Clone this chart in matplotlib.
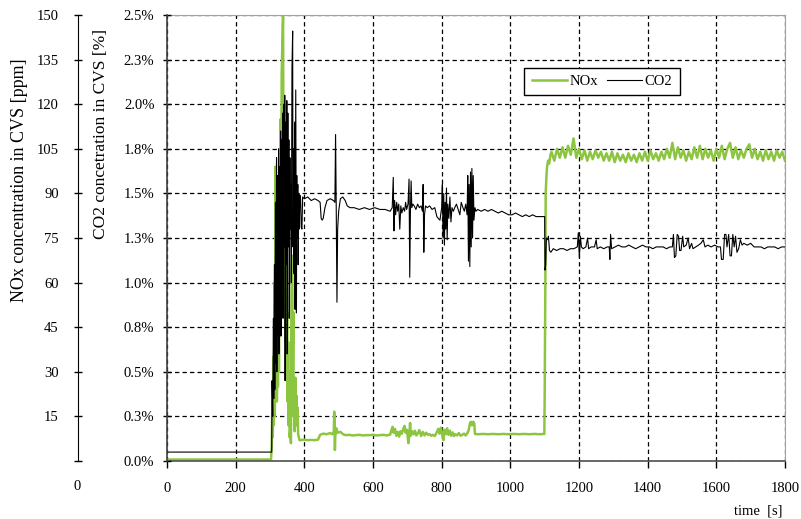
import numpy as np
import matplotlib.pyplot as plt

plt.rcParams['font.family'] = ['Liberation Serif', 'DejaVu Serif']

# CO2 concentration in CVS [%]
co2_time = [0, 302, 305, 306, 308, 310, 311, 313, 314, 316, 317, 319, 320, 322, 323, 325, 326, 328, 329,
            331, 332, 334, 335, 337, 338, 340, 341, 343, 344, 346, 347, 349, 350, 352, 353, 355, 356,
            358, 359, 361, 362, 364, 366, 367, 369, 370, 372, 373, 375, 377, 378, 379, 381, 382, 384,
            385, 387, 389, 391, 393, 395, 400, 410, 420, 430, 440, 446, 449, 452, 455, 460, 466, 475,
            485, 489, 491, 493, 495, 497, 500, 505, 512, 519, 525, 533, 545, 560, 575, 590, 605, 620,
            635, 650, 656, 659, 661, 663, 666, 669, 672, 675, 678, 681, 684, 688, 692, 695, 698, 702,
            705, 707, 709, 711, 713, 716, 720, 725, 730, 735, 740, 744, 746, 748, 750, 753, 758, 765,
            772, 780, 786, 790, 795, 800, 802, 804, 806, 808, 810, 812, 814, 816, 818, 821, 824, 827,
            830, 834, 838, 843, 848, 853, 857, 862, 866, 870, 874, 876, 878, 880, 882, 884, 886, 888,
            890, 892, 894, 897, 900, 905, 915, 925, 935, 945, 955, 965, 975, 985, 995, 1005, 1015,
            1025, 1035, 1045, 1055, 1065, 1075, 1085, 1095, 1100, 1101, 1103, 1105, 1108, 1111, 1114,
            1118, 1125, 1135, 1145, 1155, 1165, 1175, 1185, 1195, 1198, 1201, 1204, 1207, 1212, 1220,
            1225, 1228, 1235, 1245, 1250, 1253, 1262, 1272, 1282, 1288, 1290, 1292, 1295, 1305, 1315,
            1325, 1335, 1345, 1355, 1365, 1375, 1385, 1395, 1405, 1415, 1425, 1435, 1445, 1455, 1465,
            1472, 1475, 1478, 1482, 1486, 1490, 1493, 1497, 1502, 1505, 1512, 1518, 1522, 1528, 1532,
            1540, 1548, 1555, 1562, 1567, 1575, 1585, 1595, 1605, 1612, 1615, 1620, 1624, 1628, 1631,
            1636, 1640, 1644, 1648, 1652, 1656, 1660, 1665, 1670, 1675, 1680, 1690, 1700, 1710, 1720,
            1730, 1740, 1750, 1760, 1770, 1780, 1790, 1800]
co2_pct = [0.05, 0.05, 0.05, 0.45, 0.25, 0.80, 0.35, 1.10, 0.40, 1.45, 0.55, 1.70, 0.50, 1.60, 0.70, 1.75, 0.60, 1.65, 0.90,
           1.85, 0.70, 1.80, 1.00, 1.95, 0.80, 2.00, 1.20, 2.05, 0.45, 1.90, 1.10, 2.02, 0.60, 1.95, 1.20, 1.80, 0.80,
           1.70, 1.30, 1.55, 1.00, 2.20, 2.41, 1.20, 1.75, 1.05, 1.90, 0.85, 2.08, 0.83, 1.60, 1.25, 1.55, 1.10, 1.50,
           1.30, 1.49, 1.47, 1.31, 1.30, 1.48, 1.47, 1.48, 1.46, 1.47, 1.46, 1.45, 1.36, 1.35, 1.36, 1.42, 1.46, 1.47,
           1.46, 1.45, 1.83, 1.40, 0.89, 1.30, 1.40, 1.47, 1.48, 1.46, 1.43, 1.42, 1.42, 1.41, 1.42, 1.41, 1.42, 1.41,
           1.41, 1.40, 1.42, 1.59, 1.29, 1.46, 1.38, 1.45, 1.40, 1.44, 1.30, 1.43, 1.39, 1.42, 1.40, 1.45, 1.41, 1.44,
           1.58, 1.03, 1.40, 1.57, 1.42, 1.44, 1.43, 1.41, 1.44, 1.42, 1.43, 1.40, 1.55, 1.17, 1.38, 1.43, 1.42, 1.43,
           1.41, 1.42, 1.37, 1.36, 1.35, 1.42, 1.55, 1.25, 1.50, 1.21, 1.45, 1.30, 1.53, 1.24, 1.44, 1.36, 1.48, 1.34,
           1.42, 1.40, 1.42, 1.44, 1.41, 1.38, 1.45, 1.42, 1.40, 1.44, 1.38, 1.60, 1.12, 1.55, 1.09, 1.62, 1.20, 1.64,
           1.25, 1.60, 1.35, 1.42, 1.40, 1.41, 1.40, 1.41, 1.40, 1.41, 1.40, 1.39, 1.40, 1.39, 1.38, 1.38, 1.39,
           1.38, 1.37, 1.38, 1.37, 1.38, 1.37, 1.37, 1.37, 1.37, 1.07, 1.10, 1.25, 1.24, 1.26, 1.18,
           1.17, 1.19, 1.18, 1.19, 1.19, 1.18, 1.19, 1.19, 1.20, 1.28, 1.14, 1.26, 1.20, 1.19, 1.20,
           1.25, 1.19, 1.20, 1.20, 1.24, 1.19, 1.20, 1.19, 1.20, 1.20, 1.13, 1.27, 1.19, 1.20, 1.21,
           1.20, 1.20, 1.21, 1.20, 1.19, 1.20, 1.21, 1.20, 1.20, 1.19, 1.20, 1.20, 1.20, 1.19, 1.20,
           1.20, 1.27, 1.14, 1.15, 1.27, 1.26, 1.18, 1.18, 1.26, 1.20, 1.21, 1.25, 1.19, 1.22, 1.19,
           1.20, 1.21, 1.22, 1.24, 1.20, 1.21, 1.20, 1.21, 1.20, 1.20, 1.13, 1.13, 1.27, 1.27, 1.20,
           1.27, 1.15, 1.15, 1.27, 1.20, 1.26, 1.17, 1.19, 1.24, 1.21, 1.22, 1.21, 1.22, 1.20, 1.20,
           1.20, 1.19, 1.20, 1.20, 1.20, 1.19, 1.20, 1.20]

# NOx concentration in CVS [ppm]
nox_time = [0, 303, 305, 307, 308, 310, 311, 313, 314, 316, 317, 319, 320, 322, 323, 325, 326, 328, 329,
            331, 332, 334, 336, 338, 339, 341, 342, 344, 345, 347, 348, 350, 351, 353, 354, 356, 357,
            359, 361, 362, 363, 365, 366, 368, 369, 371, 372, 374, 375, 377, 378, 380, 382, 384, 386,
            390, 400, 410, 420, 430, 440, 446, 455, 465, 475, 482, 486, 487, 488, 489, 490, 493, 497,
            505, 513, 520, 530, 540, 550, 560, 570, 580, 590, 600, 610, 620, 630, 640, 650, 654, 657,
            660, 664, 668, 672, 676, 680, 684, 688, 692, 695, 699, 703, 706, 708, 710, 714, 718, 722,
            726, 730, 735, 740, 745, 750, 755, 760, 765, 770, 775, 780, 785, 790, 794, 798, 802, 805,
            808, 812, 816, 820, 824, 828, 832, 836, 840, 845, 850, 855, 860, 865, 870, 875, 879, 882,
            885, 888, 892, 895, 897, 905, 920, 935, 950, 965, 980, 995, 1010, 1025, 1040, 1055, 1070,
            1085, 1099, 1100, 1102, 1103, 1105, 1107, 1110, 1113, 1117]
nox_ppm = [0.5, 0.5, 5, 20, 8, 35, 12, 60, 15, 99, 30, 95, 20, 70, 25, 85, 30, 100, 45,
           115, 60, 130, 140, 150, 110, 120, 70, 90, 40, 65, 30, 50, 20, 40, 12, 30, 8,
           10, 6, 45, 64, 69, 30, 50, 15, 25, 10, 28, 14, 22, 12, 18, 9, 8, 7,
           7.0, 7.2, 7.0, 7.1, 7.0, 7.2, 8.8, 9.2, 9.0, 9.4, 9.0, 10, 16.6, 12, 3.7, 8, 11, 9.5,
           9.8, 9.0, 8.7, 8.8, 8.6, 8.7, 8.8, 8.6, 8.7, 8.7, 8.8, 8.6, 8.7, 8.8, 8.6, 8.9, 10.5, 11.5,
           9.5, 10.8, 8.5, 9.8, 8.2, 10.0, 9.2, 10.8, 11.8, 9.5, 10.5, 6.0, 9.0, 12.8, 8.5, 10.0, 9.0, 10.2,
           8.6, 9.2, 10.4, 8.4, 9.8, 8.6, 9.5, 8.8, 9.0, 8.5, 8.8, 8.4, 9.5, 10.8, 9.2, 11.2, 8.6, 7.0,
           10.5, 9.0, 11.0, 8.8, 10.2, 8.5, 9.6, 8.4, 9.0, 8.6, 9.4, 8.5, 8.8, 9.2, 8.6, 9.4, 10.5, 12.5,
           13.2, 12.0, 13.2, 12.6, 9.1, 9.0, 9.1, 9.0, 9.1, 9.0, 9.1, 9.0, 9.1, 9.0, 9.1, 9.0, 9.1,
           9.0, 9.1, 21.5, 60, 90, 95.5, 99, 101, 100, 103]
# steady part after 1120 s, one reading every 8 s
nox_tail = [104, 101, 105, 102, 105.5, 102, 106, 103, 108.5, 102, 105, 101.5, 104.5, 101, 104, 101.5,
            104.5, 102, 104, 101, 103.5, 101, 104, 100.5, 103.5, 101, 103, 100.5, 103.5, 101, 103, 100.5,
            103.5, 101, 104, 101, 104.5, 101.5, 103.5, 101, 104, 101.5, 105, 102, 107, 101.5, 105.5, 102,
            104.5, 101, 104, 101.5, 105.5, 102, 106, 101.5, 105, 102, 104.5, 101, 105, 102, 106, 101.5,
            105, 107, 102, 105.5, 101.5, 104.5, 102, 105, 106.5, 102, 105, 101.5, 104, 101, 104.5, 101.5,
            104, 101, 104.5, 102, 104, 101]
nox_tail_time = list(1120 + 8 * np.arange(len(nox_tail)))

co2_ticks = [0, 0.25, 0.5, 0.75, 1.0, 1.25, 1.5, 1.75, 2.0, 2.25, 2.5]
co2_labels = ['0.0%', '0.3%', '0.5%', '0.8%', '1.0%', '1.3%', '1.5%', '1.8%', '2.0%', '2.3%', '2.5%']
nox_ticks = list(range(0, 151, 15))
nox_labels = [''] + [str(v) for v in nox_ticks[1:]]
time_ticks = list(range(0, 1801, 200))

green = '#8cc540'
W, H = 801, 519
fig = plt.figure(figsize=(W / 100, H / 100), dpi=100)
left, right, top, bottom = 167, 785, 15, 461
ax_n = fig.add_axes([left / W, 1 - bottom / H, (right - left) / W, (bottom - top) / H])
ax_c = ax_n.twinx()
ax_c.yaxis.tick_left()
ax_c.yaxis.set_label_position('left')

# NOx on the lower axes (grid below), CO2 on top
ax_n.plot(nox_time + nox_tail_time, nox_ppm + nox_tail, color=green, lw=1.8, label='NOx')
ax_c.plot(co2_time, co2_pct, color='black', lw=0.8, label='CO2')

ax_n.set_xlim(0, 1800)
ax_n.set_ylim(0, 150)
ax_c.set_ylim(0, 2.5)
ax_n.set_xticks(time_ticks)
ax_n.set_yticks(nox_ticks)
ax_n.set_yticklabels(nox_labels)
ax_c.set_yticks(co2_ticks)
ax_c.set_yticklabels(co2_labels)

ax_n.set_axisbelow(True)
ax_n.grid(True, color='black', lw=0.9, linestyle=(0, (3.5, 2.5)))

for s in ['top', 'right', 'bottom']:
    ax_c.spines[s].set_visible(False)
ax_c.spines['left'].set_color('#404040')
ax_c.spines['left'].set_linewidth(1.2)
ax_n.spines['left'].set_position(('outward', 64))
ax_n.spines['left'].set_color('black')
ax_n.spines['bottom'].set_color('#505050')
ax_n.spines['bottom'].set_linewidth(1.2)
ax_n.spines['top'].set_color('#a0a0a0')
ax_n.spines['right'].set_color('#a0a0a0')

ax_n.tick_params(axis='y', direction='inout', length=6, width=1, pad=11, labelsize=10.5)
ax_c.tick_params(axis='y', direction='inout', length=6, width=1, pad=6, labelsize=10.5)
ax_n.tick_params(axis='x', direction='out', length=5, width=1, pad=10, labelsize=10.5)

fig.text(77 / W, 1 - 487 / H, '0', ha='center', va='center', fontsize=10.5)
fig.text(20 / W, 1 - 180 / H, 'NOx concentration in CVS [ppm]', rotation=90,
         ha='center', va='center', fontsize=13)
fig.text(101 / W, 1 - 134 / H, 'CO2 concetration in CVS [%]', rotation=90,
         ha='center', va='center', fontsize=12.5)
fig.text(782 / W, 1 - 511 / H, 'time  [s]', ha='right', va='center', fontsize=10.5)

h1, l1 = ax_n.get_legend_handles_labels()
h2, l2 = ax_c.get_legend_handles_labels()
leg = ax_c.legend(h1 + h2, l1 + l2, loc='center', bbox_to_anchor=(602 / W, 1 - 81.5 / H),
                  bbox_transform=fig.transFigure, ncol=2, fancybox=False, framealpha=1,
                  edgecolor='black', fontsize=10.5, handlelength=2.4, handletextpad=0.2,
                  columnspacing=0.6, borderpad=0.5)
leg.get_frame().set_linewidth(1)

fig.savefig('out.png', dpi=100)
